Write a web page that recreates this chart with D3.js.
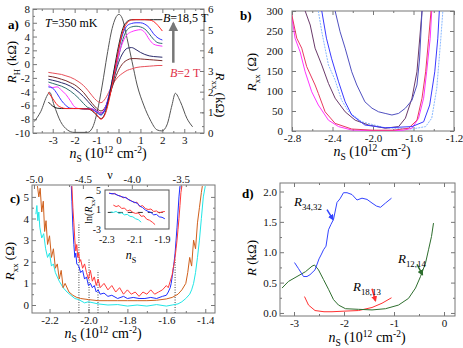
<!DOCTYPE html>
<html>
<head>
<meta charset="utf-8">
<title>Rxx / RH panels</title>
<script src="https://cdn.jsdelivr.net/npm/d3@7/dist/d3.min.js"></script>
<style>
  body { margin: 0; background: #fff; }
  svg { font-family: "Liberation Serif", "DejaVu Serif", serif; }
  .axis path { display: none; }
  .axis line { stroke: #777; }
  .axis text { font-size: 11px; fill: #111; font-family: "Liberation Serif", serif; }
  .inset text { font-size: 10px; }
  .frame { fill: none; stroke: #777; stroke-width: 1; }
  .curve { fill: none; stroke-width: 1; }
</style>
</head>
<body>
<svg width="463" height="348"></svg>
<script>
// ---------- panel a: Hall resistance family and Rxx ----------
var nA = [-3.2,-3.0,-2.8,-2.6,-2.4,-2.2,-2.0,-1.8,-1.6,-1.4,-1.2,-1.0,-0.8,-0.6,-0.4,-0.2,0,0.2,0.4,0.6,0.8,1.0,1.2,1.4,1.6,1.8,2.0];
var rhPink    = [-1.2,-1.3,-1.4,-1.5,-1.7,-1.9,-2.2,-2.6,-3.1,-3.8,-4.6,-5.3,-5.6,-5.0,-3.8,-2.6,-1.8,-1.3,-0.9,-0.7,-0.5,-0.4,-0.35,-0.3,-0.25,-0.2,-0.2];
var rhBrown   = [-1.75,-1.85,-2.0,-2.2,-2.4,-2.7,-3.0,-3.5,-4.1,-4.9,-5.7,-6.4,-6.8,-6.2,-4.5,-2.5,-0.9,0.1,0.6,0.8,0.8,0.75,0.7,0.65,0.6,0.55,0.5];
var rhNavy    = [-2.2,-2.35,-2.5,-2.7,-2.9,-3.2,-3.6,-4.1,-4.7,-5.4,-6.1,-6.7,-7.1,-6.5,-4.4,-2.0,0.2,1.6,2.3,2.4,2.1,1.7,1.4,1.2,1.1,1.05,1.0];
var rhTeal    = [-2.6,-2.8,-3.0,-3.2,-3.5,-3.9,-4.4,-5.0,-5.7,-6.3,-6.5,-6.9,-7.3,-6.6,-4.6,-1.8,1.0,3.6,5.0,5.4,5.5,5.4,5.1,4.4,3.6,3.1,3.0];
var rhMagenta = [-3.0,-3.4,-3.3,-3.8,-4.4,-5.3,-6.2,-6.45,-6.45,-6.5,-6.5,-6.8,-7.1,-6.3,-4.2,-1.5,1.2,3.2,4.3,4.7,4.9,5.0,4.6,3.6,2.9,2.7,2.6];
var rhBlue    = [-3.3,-3.5,-4.3,-5.3,-6.0,-6.4,-6.45,-6.45,-6.5,-6.5,-6.6,-7.0,-7.4,-6.4,-4.0,-1.0,2.0,4.4,5.6,5.9,6.0,6.0,5.8,5.3,4.4,3.8,3.5];
var rhRed     = [-4.1,-5.0,-5.9,-6.3,-6.45,-6.45,-6.45,-6.45,-6.5,-6.5,-6.7,-7.3,-8.0,-7.2,-4.8,-1.5,2.0,4.8,6.0,6.4,6.45,6.45,6.45,6.4,6.2,5.6,4.8];
var rhBlack   = [-5.5,-6.1,-6.4,-6.45,-6.45,-6.45,-6.45,-6.45,-6.5,-6.5,-6.8,-7.4,-7.9,-7.0,-4.3,-0.8,2.6,5.2,6.2,6.45,6.45,6.45,6.45,6.45,6.45,6.45,6.45];
var rxxN = [-3.85,-3.55,-3.24,-3.14,-2.94,-2.64,-2.33,-2.03,-1.42,-1.2,-0.97,-0.74,-0.52,-0.29,0.02,0.17,0.39,0.62,0.85,1.15,1.45,1.76,1.98,2.21,2.44,2.59,2.82,3.12,3.38];
var rxxV = [0.55,1.03,1.84,1.97,1.35,0.55,0.15,0.03,0.03,0.23,1.03,2.32,3.77,5.06,5.74,5.55,4.58,3.45,2.32,1.35,0.63,0.15,0.1,0.39,1.35,1.92,1.52,0.71,0.3];

// ---------- panel b: Rxx minima ----------
var bMagN = [-2.81,-2.77,-2.72,-2.67,-2.605,-2.54,-2.44,-2.34,-2.21,-2.0,-1.8,-1.7,-1.615,-1.55,-1.5,-1.47,-1.435,-1.42];
var bMagV = [300,232,198,148,98,65,27,11,2.5,1,1,2,7,32,82,148,232,300];
var bRedN = [-2.81,-2.753,-2.704,-2.655,-2.572,-2.54,-2.473,-2.374,-2.21,-2.0,-1.8,-1.648,-1.566,-1.516,-1.48,-1.45,-1.427];
var bRedV = [300,232,207,161,115,94,48,19,5,2,2,7,27,82,148,232,300];
var bPurN = [-2.67,-2.62,-2.572,-2.506,-2.44,-2.374,-2.275,-2.176,-2.044,-1.88,-1.747,-1.68,-1.615,-1.566,-1.516];
var bPurV = [300,265,207,165,119,82,48,27,15,7,11,32,82,148,300];
var bLtN = [-2.54,-2.506,-2.44,-2.374,-2.31,-2.24,-2.11,-1.88,-1.615,-1.48,-1.42,-1.37,-1.33,-1.31];
var bLtV = [300,248,165,127,77,48,23,8,5,11,32,107,232,300];
var bBluN = [-2.506,-2.46,-2.41,-2.34,-2.275,-2.21,-2.08,-1.88,-1.615,-1.5,-1.44,-1.39,-1.36,-1.345];
var bBluV = [300,232,182,123,73,40,15,8,11,23,65,148,232,300];
var bDkN = [-2.374,-2.325,-2.275,-2.21,-2.16,-2.08,-2.01,-1.945,-1.88,-1.813,-1.747,-1.68,-1.615,-1.566,-1.54,-1.516];
var bDkV = [300,248,207,148,115,73,57,48,44,40,44,57,77,115,180,300];

// ---------- panel c: Rxx near nu = -4 ----------
var cOrN = [-2.262,-2.255,-2.248,-2.24,-2.232,-2.225,-2.218,-2.21,-2.2,-2.19,-2.18,-2.17,-2.16,-2.15,-2.14,-2.13,-2.12,-2.10,-2.08,-2.06,-2.04,-2.0,-1.95,-1.9,-1.85,-1.8,-1.75,-1.7,-1.65,-1.6,-1.57,-1.54,-1.52,-1.50,-1.49,-1.48,-1.47,-1.46,-1.45,-1.44,-1.43,-1.42,-1.415];
var cOrV = [5.5,5.0,5.4,4.3,4.8,3.4,3.9,2.8,3.2,2.2,2.6,1.7,1.9,1.2,1.6,0.8,1.0,0.6,0.45,0.35,0.3,0.25,0.2,0.2,0.2,0.2,0.2,0.2,0.22,0.28,0.35,0.5,0.7,1.0,1.5,2.2,1.8,3.0,2.6,3.8,4.5,5.2,5.5];
var cCyN = [-2.27,-2.265,-2.26,-2.255,-2.25,-2.24,-2.23,-2.22,-2.21,-2.2,-2.19,-2.18,-2.17,-2.16,-2.15,-2.13,-2.11,-2.09,-2.07,-2.05,-2.02,-2.0,-1.95,-1.9,-1.85,-1.8,-1.75,-1.7,-1.65,-1.6,-1.57,-1.54,-1.52,-1.5,-1.48,-1.47,-1.46,-1.45,-1.44,-1.43,-1.42,-1.41,-1.40];
var cCyV = [4.2,4.6,3.9,4.3,3.6,3.1,3.3,2.6,2.2,2.4,1.8,1.9,1.5,1.3,1.1,0.8,0.6,0.45,0.3,0.25,0.1,0.15,0.05,0.0,0.02,-0.05,0.0,-0.05,0.02,-0.05,0.0,0.05,0.15,0.3,0.5,0.7,1.0,1.5,2.2,3.0,4.0,5.0,5.5];
var cRedN = [-2.085,-2.08,-2.075,-2.07,-2.065,-2.06,-2.055,-2.05,-2.045,-2.04,-2.03,-2.02,-2.01,-2.0,-1.99,-1.98,-1.97,-1.96,-1.95,-1.94,-1.92,-1.9,-1.88,-1.86,-1.84,-1.82,-1.8,-1.78,-1.76,-1.74,-1.72,-1.7,-1.68,-1.66,-1.64,-1.62,-1.6,-1.59,-1.58,-1.57,-1.565,-1.56,-1.555,-1.55,-1.545,-1.54,-1.535,-1.53,-1.525,-1.52];
var cRedV = [5.5,4.5,3.8,3.0,2.5,2.8,2.2,2.4,2.0,2.1,1.7,1.9,1.5,1.2,1.6,1.1,1.3,0.9,1.2,0.8,1.0,0.7,0.9,0.6,0.8,0.5,0.7,0.5,0.6,0.4,0.6,0.5,0.7,0.5,0.6,0.7,0.9,0.8,1.1,1.4,1.7,1.9,2.2,2.6,3.0,3.5,4.0,4.6,5.2,5.5];
var cBluN = [-2.088,-2.085,-2.08,-2.075,-2.07,-2.065,-2.06,-2.05,-2.04,-2.03,-2.02,-2.01,-2.0,-1.99,-1.98,-1.97,-1.96,-1.95,-1.94,-1.92,-1.9,-1.88,-1.85,-1.82,-1.8,-1.77,-1.74,-1.71,-1.68,-1.65,-1.62,-1.6,-1.59,-1.58,-1.575,-1.57,-1.565,-1.56,-1.555,-1.55,-1.545,-1.54,-1.535,-1.53];
var cBluV = [5.5,4.8,3.6,2.8,2.2,2.4,1.9,1.8,1.5,1.6,1.2,1.3,0.9,1.0,0.8,0.9,0.6,0.7,0.5,0.55,0.4,0.45,0.3,0.4,0.3,0.35,0.3,0.3,0.35,0.3,0.4,0.45,0.6,0.8,1.0,1.3,1.6,2.0,2.4,3.0,3.6,4.3,5.0,5.5];
var cDotN = [-2.049,-1.997,-1.951,-1.555];
var cDotTop = [3.8,2.1,1.6,2.1];
var nuTicks = [-5.0,-4.5,-4.0,-3.5];
// inset ln(Rxx)
var iRedN = [-2.28,-2.26,-2.24,-2.22,-2.2,-2.18,-2.16,-2.14,-2.12,-2.1,-2.08,-2.06,-2.04,-2.02,-2.0,-1.98,-1.96,-1.94,-1.92,-1.9,-1.88];
var iRedV = [4.4,4.2,4.3,3.9,3.8,3.4,3.5,3.0,2.8,2.4,2.5,1.6,1.8,1.2,1.0,1.1,0.6,0.7,0.3,0.5,0.6];
var iBluN = [-2.28,-2.24,-2.2,-2.16,-2.12,-2.08,-2.06,-2.04,-2.02,-2.0,-1.98,-1.96,-1.94,-1.92,-1.9,-1.88];
var iBluV = [4.3,4.2,3.7,3.4,2.7,2.3,1.7,1.4,0.9,0.6,0.4,-0.1,0.0,-0.5,-0.6,-0.9];
var iRed2N = [-2.25,-2.23,-2.21,-2.19,-2.17,-2.15,-2.13,-2.11,-2.09,-2.07,-2.05,-2.03,-2.01,-1.99,-1.97,-1.95];
var iRed2V = [1.9,1.6,1.8,1.2,1.3,0.7,0.9,0.4,0.2,0.3,-0.4,-0.3,-1.0,-1.2,-1.6,-2.1];
var iCyN = [-2.27,-2.25,-2.23,-2.21,-2.19,-2.17,-2.15,-2.13,-2.11,-2.09,-2.07,-2.05];
var iCyV = [0.5,0.4,0.6,0.2,0.3,-0.1,0.0,-0.4,-0.5,-0.9,-1.1,-1.6];

// ---------- panel d: non-local resistances ----------
var dBluN = [-2.99,-2.91,-2.81,-2.74,-2.68,-2.58,-2.5,-2.45,-2.41,-2.36,-2.31,-2.26,-2.21,-2.14,-2.08,-2.01,-1.94,-1.84,-1.74,-1.64,-1.54,-1.44,-1.35,-1.27,-1.17,-1.05];
var dBluV = [0.83,0.73,0.6,0.6,0.63,0.71,0.89,0.97,1.04,1.1,1.37,1.46,1.54,1.82,1.88,1.98,1.98,1.95,1.86,1.89,1.87,1.81,1.76,1.74,1.81,1.89];
var dGrnN = [-3.24,-3.11,-2.94,-2.77,-2.64,-2.59,-2.51,-2.41,-2.31,-2.21,-2.11,-1.97,-1.71,-1.44,-1.17,-0.91,-0.71,-0.57,-0.47,-0.37,-0.31,-0.25,-0.21];
var dGrnV = [0.41,0.52,0.6,0.68,0.77,0.79,0.71,0.55,0.39,0.22,0.13,0.07,0.06,0.05,0.07,0.13,0.24,0.41,0.6,0.82,1.04,1.26,1.48];
var dRedN = [-2.79,-2.71,-2.58,-2.4,-2.24,-2.0,-1.71,-1.44,-1.24,-1.05];
var dRedV = [0.27,0.13,0.04,0.02,0.02,0.03,0.04,0.09,0.16,0.25];

var svg = d3.select("svg");
var fmt1 = function(d) { return d3.format(".1f")(d).replace("\u2212", "-"); };
var fmt0 = function(d) { return d3.format("d")(d).replace("\u2212", "-"); };

// text with italic / sub / sup parts
function rich(g, x, y, parts, o) {
    o = o || {};
    var size = o.size || 14;
    var t = g.append("text").attr("x", x).attr("y", y).attr("font-size", size)
        .attr("text-anchor", o.anchor || "start").attr("fill", o.fill || "#000");
    if (o.rotate) t.attr("transform", "rotate(" + o.rotate + "," + x + "," + y + ")");
    if (o.bold) t.attr("font-weight", "bold");
    var cur = 0;
    parts.forEach(function(p) {
        var k = (p[1] || "").split(" ");
        var sp = t.append("tspan").text(p[0]);
        var off = 0;
        if (k.indexOf("sub") >= 0) off = size * 0.3;
        if (k.indexOf("sup") >= 0) off = -size * 0.35;
        if (off !== cur) sp.attr("dy", off - cur);
        cur = off;
        if (off !== 0) sp.attr("font-size", size * 0.68);
        if (k.indexOf("i") >= 0) sp.attr("font-style", "italic");
    });
    return t;
}

var nsLabel = [["n", "i"], ["S", "sub"], [" (10"], ["12", "sup"], [" cm"], ["-2", "sup"], [")"]];

// frame with inward ticks on all four sides
function frameAxes(g, x, y, o) {
    var xr = x.range(), yr = y.range();
    g.append("g").attr("class", "axis").attr("transform", "translate(0," + yr[0] + ")")
        .call(d3.axisBottom(x).tickValues(o.xt).tickSize(-4).tickPadding(3).tickFormat(o.xf));
    if (!o.noTop)
        g.append("g").attr("class", "axis").attr("transform", "translate(0," + yr[1] + ")")
            .call(d3.axisTop(x).tickValues(o.xt).tickSize(-4).tickFormat(""));
    g.append("g").attr("class", "axis").attr("transform", "translate(" + xr[0] + ",0)")
        .call(d3.axisLeft(y).tickValues(o.yt).tickSize(-4).tickPadding(o.ypad || 3).tickFormat(o.yf));
    if (!o.noRight)
        g.append("g").attr("class", "axis").attr("transform", "translate(" + xr[1] + ",0)")
            .call(d3.axisRight(y).tickValues(o.yt).tickSize(-4).tickFormat(""));
    if (o.xm) {
        g.append("g").attr("class", "axis").attr("transform", "translate(0," + yr[0] + ")")
            .call(d3.axisBottom(x).tickValues(o.xm).tickSize(-2).tickFormat(""));
        g.append("g").attr("class", "axis").attr("transform", "translate(0," + yr[1] + ")")
            .call(d3.axisTop(x).tickValues(o.xm).tickSize(-2).tickFormat(""));
    }
    if (o.ym) {
        g.append("g").attr("class", "axis").attr("transform", "translate(" + xr[0] + ",0)")
            .call(d3.axisLeft(y).tickValues(o.ym).tickSize(-2).tickFormat(""));
        g.append("g").attr("class", "axis").attr("transform", "translate(" + xr[1] + ",0)")
            .call(d3.axisRight(y).tickValues(o.ym).tickSize(-2).tickFormat(""));
    }
    g.append("rect").attr("class", "frame")
        .attr("x", xr[0]).attr("y", yr[1]).attr("width", xr[1] - xr[0]).attr("height", yr[0] - yr[1]);
}

function clip(id, x, y) {
    var xr = x.range(), yr = y.range();
    svg.append("clipPath").attr("id", id).append("rect")
        .attr("x", xr[0]).attr("y", yr[1]).attr("width", xr[1] - xr[0]).attr("height", yr[0] - yr[1]);
    return svg.append("g").attr("clip-path", "url(#" + id + ")");
}

function draw(g, x, y, ns, vs, color, o) {
    o = o || {};
    var line = d3.line().x(function(d) { return x(d[0]); }).y(function(d) { return y(d[1]); })
        .curve(o.curve || d3.curveLinear);
    return g.append("path").attr("class", "curve").attr("d", line(d3.zip(ns, vs)))
        .attr("stroke", color).attr("stroke-width", o.w || 1)
        .attr("stroke-dasharray", o.dash || null);
}

svg.append("defs").selectAll("marker")
    .data([["gray", "#777"], ["blu", "#3344ff"], ["grn", "#2e6e2e"], ["red", "#ff3030"]])
    .enter().append("marker")
    .attr("id", function(d) { return "ah-" + d[0]; })
    .attr("viewBox", "0 0 10 10").attr("refX", 8).attr("refY", 5)
    .attr("markerWidth", 4).attr("markerHeight", 4).attr("orient", "auto")
    .append("path").attr("d", "M0,0 L10,5 L0,10 z").attr("fill", function(d) { return d[1]; });

// ================= panel a =================
var xA = d3.scaleLinear().domain([-3.9, 3.9]).range([33, 204]);
var yA = d3.scaleLinear().domain([-10, 8]).range([133, 9]);
var yA2 = d3.scaleLinear().domain([0, 6]).range([133, 9]);
var gA = svg.append("g");
frameAxes(gA, xA, yA, { xt: [-3, -2, -1, 0, 1, 2, 3], xf: fmt0, yt: d3.range(-10, 9, 2), yf: fmt0,
    noRight: true, xm: [-3.5, -2.5, -1.5, -0.5, 0.5, 1.5, 2.5, 3.5], ym: d3.range(-9, 8, 2) });
gA.append("g").attr("class", "axis").attr("transform", "translate(" + xA.range()[1] + ",0)")
    .call(d3.axisRight(yA2).tickValues(d3.range(0, 7)).tickSize(-4).tickPadding(4).tickFormat(fmt0));
var cA = clip("clipA", xA, yA);
draw(cA, xA, yA2, rxxN, rxxV, "#555", { curve: d3.curveMonotoneX });
[[rhPink, "#e8505a"], [rhBrown, "#7a2a2a"], [rhNavy, "#2a2a6a"], [rhTeal, "#2f6f6f"],
 [rhMagenta, "#ff33ff"], [rhBlue, "#3333ff"], [rhBlack, "#222"], [rhRed, "#ff2020"]]
    .forEach(function(c) { draw(cA, xA, yA, nA, c[0], c[1], { curve: d3.curveMonotoneX }); });
rich(svg, 8, 29, [["a)"]], { size: 13, bold: true });
rich(svg, 45, 27, [["T", "i"], ["=350 mK"]], { size: 12 });
rich(svg, 163, 22, [["B", "i"], ["=18,5 T"]], { size: 12 });
rich(svg, 170, 77, [["B", "i"], ["=2 T"]], { size: 12, fill: "#e03048" });
svg.append("line").attr("x1", xA(2.5)).attr("x2", xA(2.5)).attr("y1", yA2(3.4)).attr("y2", yA2(5.3))
    .attr("stroke", "#777").attr("stroke-width", 2.5).attr("marker-end", "url(#ah-gray)");
rich(svg, 16, 62, [["R", "i"], ["H", "sub"], [" (k\u03a9)"]], { anchor: "middle", rotate: -90, size: 13 });
rich(svg, 216, 95, [["R", "i"], ["xx", "sub"], [" (k\u03a9)"]], { anchor: "middle", rotate: 90, size: 13 });
rich(svg, 108, 158, nsLabel, { anchor: "middle" });

// ================= panel b =================
var xB = d3.scaleLinear().domain([-2.8, -1.2]).range([292, 454]);
var yB = d3.scaleLinear().domain([0, 300]).range([131, 11]);
var gB = svg.append("g");
frameAxes(gB, xB, yB, { xt: [-2.8, -2.4, -2.0, -1.6, -1.2], xf: fmt1, yt: d3.range(0, 301, 50), yf: fmt0,
    xm: [-2.6, -2.2, -1.8, -1.4], ypad: 9 });
var cB = clip("clipB", xB, yB);
draw(cB, xB, yB, bLtN, bLtV, "#88b8ff", { dash: "2,1" });
draw(cB, xB, yB, bMagN, bMagV, "#ff33ff");
draw(cB, xB, yB, bRedN, bRedV, "#e83a60");
draw(cB, xB, yB, bPurN, bPurV, "#6a3a6a");
draw(cB, xB, yB, bBluN, bBluV, "#3a3aff");
draw(cB, xB, yB, bDkN, bDkV, "#5050c0");
rich(svg, 240, 20, [["b)"]], { size: 13, bold: true });
rich(svg, 256, 72, [["R", "i"], ["xx", "sub"], [" (\u03a9)"]], { anchor: "middle", rotate: -90, size: 13 });
rich(svg, 372, 156, nsLabel, { anchor: "middle" });

// ================= panel c =================
var xC = d3.scaleLinear().domain([-2.29, -1.35]).range([32, 215]);
var yC = d3.scaleLinear().domain([-0.37, 5.55]).range([313, 185]);
var nuC = d3.scaleLinear().domain([-5.02, -3.15]).range([32, 215]);
var gC = svg.append("g");
frameAxes(gC, xC, yC, { xt: [-2.2, -2.0, -1.8, -1.6, -1.4], xf: fmt1, yt: d3.range(0, 6), yf: fmt0,
    noTop: true, xm: [-2.1, -1.9, -1.7, -1.5], ym: [0.5, 1.5, 2.5, 3.5, 4.5] });
gC.append("g").attr("class", "axis").attr("transform", "translate(0," + yC.range()[1] + ")")
    .call(d3.axisTop(nuC).tickValues(nuTicks).tickSize(-4).tickPadding(2).tickFormat(fmt1));
var cC = clip("clipC", xC, yC);
cC.selectAll("line.vdot").data(d3.zip(cDotN, cDotTop)).enter().append("line")
    .attr("x1", function(d) { return xC(d[0]); }).attr("x2", function(d) { return xC(d[0]); })
    .attr("y1", yC(-0.37)).attr("y2", function(d) { return yC(d[1]); })
    .attr("stroke", "#444").attr("stroke-dasharray", "1,1.5");
draw(cC, xC, yC, cCyN, cCyV, "#22e6e6");
draw(cC, xC, yC, cOrN, cOrV, "#d0601c");
draw(cC, xC, yC, cBluN, cBluV, "#1f2fff");
draw(cC, xC, yC, cRedN, cRedV, "#ff3a3a");
// inset
var xI = d3.scaleLinear().domain([-2.31, -1.85]).range([105, 169]);
var yI = d3.scaleLinear().domain([-3, 5]).range([229, 190]);
var gI = svg.append("g").attr("class", "inset");
gI.append("rect").attr("x", 105).attr("y", 190).attr("width", 64).attr("height", 39)
    .attr("fill", "#fff").attr("stroke", "#555");
gI.append("g").attr("class", "axis").attr("transform", "translate(105,0)")
    .call(d3.axisLeft(yI).tickValues([5, 1, -3]).tickSize(0).tickPadding(4).tickFormat(fmt0));
gI.append("g").attr("class", "axis").attr("transform", "translate(0,229)")
    .call(d3.axisBottom(xI).tickValues([-2.3, -2.1, -1.9]).tickSize(0).tickPadding(7).tickFormat(fmt1));
var cI = clip("clipI", xI, yI);
cI.append("line").attr("x1", xI(-2.29)).attr("x2", xI(-1.88)).attr("y1", yI(0.4)).attr("y2", yI(0.4))
    .attr("stroke", "#333").attr("stroke-dasharray", "5,5");
draw(cI, xI, yI, iCyN, iCyV, "#22e6e6");
draw(cI, xI, yI, iRed2N, iRed2V, "#ff3a3a");
draw(cI, xI, yI, iRedN, iRedV, "#ff3a3a");
draw(cI, xI, yI, iBluN, iBluV, "#1f2fff");
rich(svg, 92, 210, [["ln("], ["R", "i"], ["xx", "sub"], [")"]], { anchor: "middle", rotate: -90, size: 10 });
rich(svg, 131, 259, [["n", "i"], ["S", "sub"]], { anchor: "middle", size: 12 });
rich(svg, 110, 179, [["\u03bd"]], { anchor: "middle", size: 12 });
rich(svg, 10, 203, [["c)"]], { size: 13, bold: true });
rich(svg, 14, 261, [["R", "i"], ["xx", "sub"], [" (\u03a9)"]], { anchor: "middle", rotate: -90, size: 13 });
rich(svg, 103, 338, nsLabel, { anchor: "middle" });

// ================= panel d =================
var xD = d3.scaleLinear().domain([-3.28, 0.22]).range([280, 455]);
var yD = d3.scaleLinear().domain([-0.05, 2.14]).range([316, 183]);
var gD = svg.append("g");
frameAxes(gD, xD, yD, { xt: [-3, -2, -1, 0], xf: fmt0, yt: [0, 0.5, 1, 1.5, 2], yf: fmt1,
    xm: [-2.5, -1.5, -0.5], ym: [0.25, 0.75, 1.25, 1.75] });
var cD = clip("clipD", xD, yD);
draw(cD, xD, yD, dRedN, dRedV, "#ff3030");
draw(cD, xD, yD, dGrnN, dGrnV, "#2e6e2e");
draw(cD, xD, yD, dBluN, dBluV, "#3344ff");
[[-2.34, 1.70, -2.22, 1.54, "blu"], [-0.54, 0.80, -0.43, 0.63, "grn"], [-1.44, 0.40, -1.37, 0.20, "red"]]
    .forEach(function(a) {
        svg.append("line").attr("x1", xD(a[0])).attr("y1", yD(a[1])).attr("x2", xD(a[2])).attr("y2", yD(a[3]))
            .attr("stroke", a[4] === "blu" ? "#3344ff" : a[4] === "grn" ? "#2e6e2e" : "#ff3030")
            .attr("stroke-width", 1.5).attr("marker-end", "url(#ah-" + a[4] + ")");
    });
rich(svg, 294, 206, [["R", "i"], ["34,32", "sub"]], { size: 13 });
rich(svg, 353, 291, [["R", "i"], ["18,13", "sub"]], { size: 13 });
rich(svg, 398, 263, [["R", "i"], ["12,14", "sub"]], { size: 13 });
rich(svg, 242, 198, [["d)"]], { size: 13, bold: true });
rich(svg, 256, 258, [["R", "i"], [" (k\u03a9)"]], { anchor: "middle", rotate: -90, size: 13 });
rich(svg, 367, 342, nsLabel, { anchor: "middle" });
</script>
</body>
</html>
